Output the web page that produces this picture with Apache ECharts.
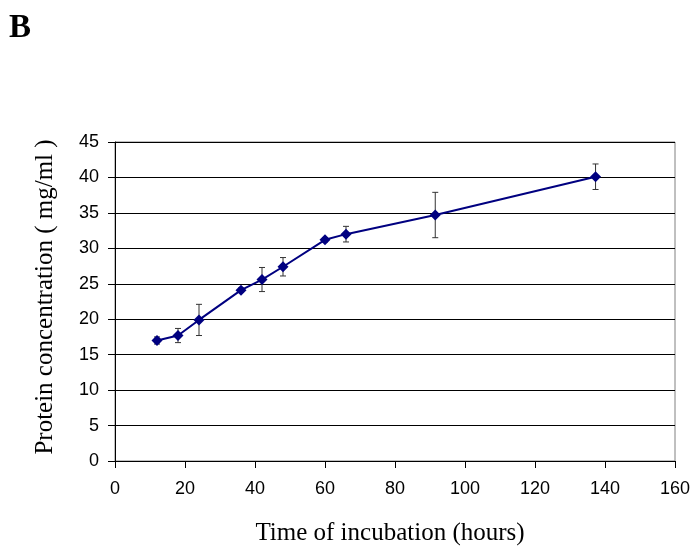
<!DOCTYPE html>
<html>
<head>
<meta charset="utf-8">
<script src="https://cdn.jsdelivr.net/npm/echarts@6/dist/echarts.min.js"></script>
<style>
  html, body { margin: 0; padding: 0; background: #fff; }
  #chart { width: 695px; height: 549px; }
</style>
</head>
<body>
<div id="chart"></div>
<script>
// Incubation time (hours), mean protein concentration (mg/ml) and error (±)
var hours   = [12, 18, 24, 36, 42, 48, 60, 66, 91.5, 137.3];
var protein = [17.0, 17.7, 19.9, 24.1, 25.6, 27.4, 31.2, 32.0, 34.7, 40.1];
var errors  = [0.5, 1.0, 2.2, 0.3, 1.7, 1.3, 0.3, 1.1, 3.2, 1.8];

var xTitle = 'Time of incubation (hours)';
var yTitle = 'Protein concentration ( mg/ml )';

var lineData = hours.map(function (h, i) { return [h, protein[i]]; });
var errData = hours.map(function (h, i) { return [h, protein[i] - errors[i], protein[i] + errors[i]]; });

var chart = echarts.init(document.getElementById('chart'), null, { renderer: 'canvas' });

var tickFont = { fontFamily: 'Liberation Sans, Arial, sans-serif', fontSize: 18, color: '#000' };
var serif = '"Liberation Serif", "Times New Roman", serif';

chart.setOption({
  animation: false,
  backgroundColor: '#fff',
  graphic: [
    {
      type: 'text', left: 9, top: 12,
      style: { text: 'B', font: 'bold 33px ' + serif, fill: '#000' }
    },
    {
      type: 'text', x: 390, y: 533,
      style: { text: xTitle, font: '25px ' + serif, fill: '#000', align: 'center', verticalAlign: 'middle' }
    },
    {
      type: 'text', x: 45, y: 297, rotation: Math.PI / 2,
      style: { text: yTitle, font: '25px ' + serif, fill: '#000', align: 'center', verticalAlign: 'middle' }
    }
  ],
  grid: {
    left: 115, right: 20, top: 142, bottom: 88,
    show: true, borderColor: '#808080', borderWidth: 1, backgroundColor: 'transparent'
  },
  xAxis: {
    type: 'value', min: 0, max: 160, interval: 20,
    axisLine: { onZero: false, lineStyle: { color: '#000', width: 1 } },
    axisTick: { show: true, length: 7, lineStyle: { color: '#000' } },
    axisLabel: Object.assign({ margin: 19 }, tickFont),
    splitLine: { show: false }
  },
  yAxis: {
    type: 'value', min: 0, max: 45, interval: 5,
    axisLine: { show: true, onZero: false, lineStyle: { color: '#000', width: 1 } },
    axisTick: { show: true, length: 7, lineStyle: { color: '#000' } },
    axisLabel: Object.assign({ margin: 16 }, tickFont),
    splitLine: { show: true, lineStyle: { color: '#000', width: 1 } }
  },
  series: [
    {
      type: 'custom',
      data: errData,
      z: 3,
      renderItem: function (params, api) {
        var x = api.value(0);
        var lo = api.coord([x, api.value(1)]);
        var hi = api.coord([x, api.value(2)]);
        var cap = 3;
        var st = { stroke: '#333', lineWidth: 1 };
        return {
          type: 'group',
          children: [
            { type: 'line', shape: { x1: lo[0], y1: lo[1], x2: hi[0], y2: hi[1] }, style: st },
            { type: 'line', shape: { x1: lo[0] - cap, y1: lo[1], x2: lo[0] + cap, y2: lo[1] }, style: st },
            { type: 'line', shape: { x1: hi[0] - cap, y1: hi[1], x2: hi[0] + cap, y2: hi[1] }, style: st }
          ]
        };
      }
    },
    {
      type: 'line',
      data: lineData,
      z: 4,
      symbol: 'diamond',
      symbolSize: 11,
      lineStyle: { color: '#000080', width: 2 },
      itemStyle: { color: '#000080', borderWidth: 0 }
    }
  ]
});
</script>
</body>
</html>
